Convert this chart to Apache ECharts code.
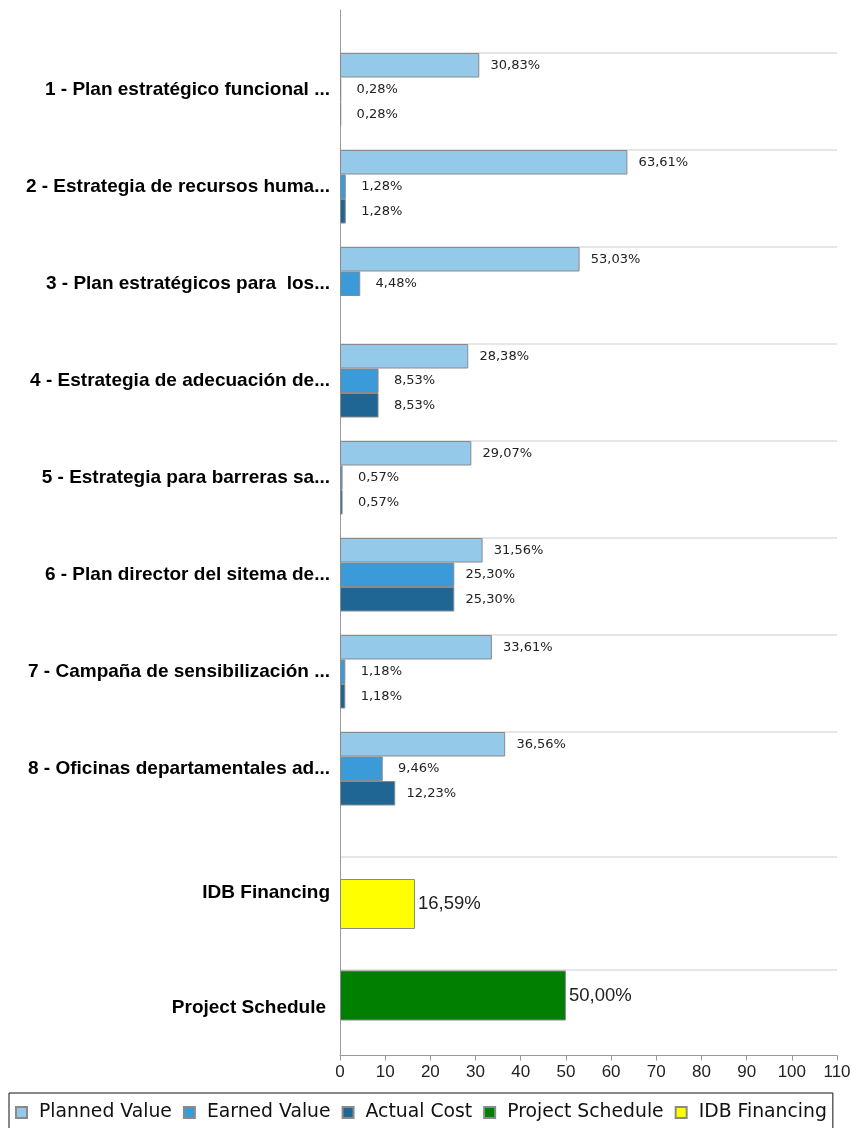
<!DOCTYPE html>
<html>
<head>
<meta charset="utf-8">
<script src="https://cdn.jsdelivr.net/npm/echarts@6/dist/echarts.min.js"></script>
<style>
  html, body { margin: 0; padding: 0; background: #fff; }
  #chart { width: 856px; height: 1128px; }
</style>
</head>
<body>
<div id="chart"></div>
<script>
// tasks (upper block)
const categories = [
  '1 - Plan estratégico funcional ...',
  '2 - Estrategia de recursos huma...',
  '3 - Plan estratégicos para  los...',
  '4 - Estrategia de adecuación de...',
  '5 - Estrategia para barreras sa...',
  '6 - Plan director del sitema de...',
  '7 - Campaña de sensibilización ...',
  '8 - Oficinas departamentales ad...'
]
const plannedValue = [30.83, 63.61, 53.03, 28.38, 29.07, 31.56, 33.61, 36.56]
const earnedValue = [0.28, 1.28, 4.48, 8.53, 0.57, 25.30, 1.18, 9.46]
const actualCost = [0.28, 1.28, '-', 8.53, 0.57, 25.30, 1.18, 12.23]

// summary (lower block)
const idbCategory = ['IDB Financing']
const idbFinancing = [16.59]
const scheduleCategory = ['Project Schedule']
const projectSchedule = [50.00]

const xTicks = { min: 0, max: 110, interval: 10 }
const legendNames = ['Planned Value', 'Earned Value', 'Actual Cost', 'Project Schedule', 'IDB Financing']

const pct = (p) => p.value.toFixed(2).replace('.', ',') + '%'
const gridLine = '#e6e6e6'
const noLine = 'rgba(0,0,0,0)'
const barBorder = { borderColor: '#8a8a8a', borderWidth: 1 }

const plotLeft = 340
const plotWidth = 497

const hiddenX = (grid) => ({ type: 'value', gridIndex: grid, min: xTicks.min, max: xTicks.max, show: false })

const smallLabel = {
  show: true,
  position: 'right',
  distance: 36,
  align: 'center',
  formatter: pct,
  fontFamily: 'DejaVu Sans',
  fontSize: 13,
  color: '#222'
}
const bigLabel = {
  show: true,
  position: 'right',
  distance: 3,
  formatter: pct,
  fontFamily: 'Liberation Sans',
  fontSize: 18.5,
  color: '#222'
}
const catLabel = {
  fontFamily: 'Liberation Sans',
  fontWeight: 'bold',
  fontSize: 19,
  color: '#000',
  margin: 10
}

const chart = echarts.init(document.getElementById('chart'))

chart.setOption({
  animation: false,
  backgroundColor: '#fff',
  grid: [
    { left: plotLeft, width: plotWidth, top: 10, height: 1045.5 },   // frame with axes
    { left: plotLeft, width: plotWidth, top: 53, height: 776 },      // row lines, upper block
    { left: plotLeft, width: plotWidth, top: 41.25, height: 776 },   // bars, upper block
    { left: plotLeft, width: plotWidth, top: 857, height: 94 },      // IDB
    { left: plotLeft, width: plotWidth, top: 970, height: 51 }       // schedule
  ],
  xAxis: [
    {
      type: 'value',
      gridIndex: 0,
      min: xTicks.min,
      max: xTicks.max,
      interval: xTicks.interval,
      axisLine: { show: true, lineStyle: { color: '#999', width: 1 } },
      axisTick: { show: true, length: 5, lineStyle: { color: '#999' } },
      axisLabel: { fontFamily: 'Liberation Sans Narrow, Liberation Sans', fontSize: 17, color: '#222', margin: 8 },
      splitLine: { show: false }
    },
    hiddenX(1),
    hiddenX(2),
    hiddenX(3),
    hiddenX(4)
  ],
  yAxis: [
    {
      type: 'category',
      gridIndex: 0,
      data: [''],
      axisLine: { show: true, lineStyle: { color: '#999', width: 1 } },
      axisTick: { show: false },
      axisLabel: { show: false },
      splitLine: { show: false }
    },
    {
      type: 'category',
      gridIndex: 1,
      inverse: true,
      data: categories,
      axisLine: { show: false },
      axisTick: { show: false },
      axisLabel: { show: false },
      splitLine: {
        show: true,
        lineStyle: { width: 2, color: categories.map(() => gridLine).concat([noLine]) }
      }
    },
    {
      type: 'category',
      gridIndex: 2,
      inverse: true,
      data: categories,
      axisLine: { show: false },
      axisTick: { show: false },
      axisLabel: catLabel,
      splitLine: { show: false }
    },
    {
      type: 'category',
      gridIndex: 3,
      inverse: true,
      data: idbCategory,
      axisLine: { show: false },
      axisTick: { show: false },
      axisLabel: Object.assign({}, catLabel, { verticalAlign: 'bottom', lineHeight: 22 }),
      splitLine: { show: true, lineStyle: { width: 2, color: [gridLine, noLine] } }
    },
    {
      type: 'category',
      gridIndex: 4,
      inverse: true,
      data: scheduleCategory,
      axisLine: { show: false },
      axisTick: { show: false },
      axisLabel: Object.assign({}, catLabel, { verticalAlign: 'top', lineHeight: 25, margin: 14 }),
      splitLine: { show: true, lineStyle: { width: 2, color: [gridLine, noLine] } }
    }
  ],
  legend: {
    data: legendNames,
    left: 9,
    top: 1093,
    orient: 'horizontal',
    icon: 'rect',
    itemWidth: 11,
    itemHeight: 11,
    itemGap: 11,
    padding: [10, 6, 12, 6],
    borderColor: '#111',
    borderWidth: 1,
    textStyle: { fontFamily: 'DejaVu Sans', fontSize: 18.8, color: '#111', padding: [0, 0, 0, 7] }
  },
  series: [
    {
      name: 'Planned Value',
      type: 'bar',
      xAxisIndex: 2,
      yAxisIndex: 2,
      barWidth: 24.5,
      barGap: '0%',
      data: plannedValue,
      itemStyle: Object.assign({ color: '#95c9e9' }, barBorder),
      label: smallLabel
    },
    {
      name: 'Earned Value',
      type: 'bar',
      xAxisIndex: 2,
      yAxisIndex: 2,
      barWidth: 24.5,
      barGap: '0%',
      data: earnedValue,
      itemStyle: Object.assign({ color: '#3a9bd8' }, barBorder),
      label: smallLabel
    },
    {
      name: 'Actual Cost',
      type: 'bar',
      xAxisIndex: 2,
      yAxisIndex: 2,
      barWidth: 24.5,
      barGap: '0%',
      data: actualCost,
      itemStyle: Object.assign({ color: '#1f6695' }, barBorder),
      label: smallLabel
    },
    {
      name: 'Project Schedule',
      type: 'bar',
      xAxisIndex: 4,
      yAxisIndex: 4,
      barWidth: 50,
      data: projectSchedule,
      itemStyle: Object.assign({ color: '#007f00' }, barBorder),
      label: bigLabel
    },
    {
      name: 'IDB Financing',
      type: 'bar',
      xAxisIndex: 3,
      yAxisIndex: 3,
      barWidth: 50,
      data: idbFinancing,
      itemStyle: Object.assign({ color: '#ffff00' }, barBorder),
      label: bigLabel
    }
  ]
})
</script>
</body>
</html>
